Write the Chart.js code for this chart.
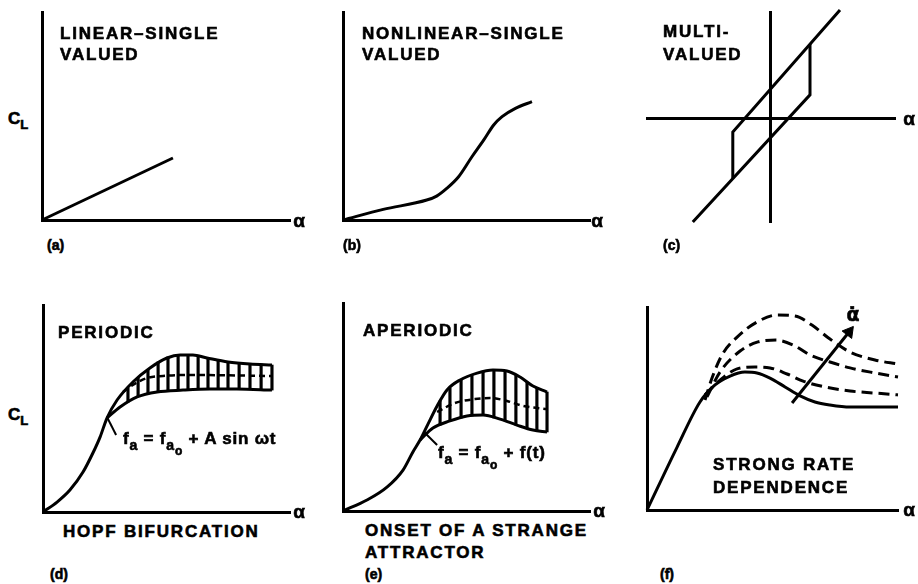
<!DOCTYPE html>
<html>
<head>
<meta charset="utf-8">
<script src="https://cdn.jsdelivr.net/npm/chart.js@4.4.1/dist/chart.umd.min.js"></script>
<style>
  html, body { margin: 0; padding: 0; background: #fff; }
  #fig { position: relative; width: 918px; height: 584px; overflow: hidden; font-family: "Liberation Sans", Arial, sans-serif; font-weight: bold; color: #000; -webkit-text-stroke: 0.6px #000; }
  #fig canvas { position: absolute; }
  .t { position: absolute; font-size: 17px; letter-spacing: 1.8px; line-height: 1; white-space: nowrap; transform: translateY(-50%); }
  .al { position: absolute; font-size: 19px; line-height: 1; transform: translate(-50%, -50%); }
  .cl { position: absolute; font-size: 17px; line-height: 1; transform: translateY(-50%); }
  .cl span { font-size: 13px; position: relative; top: 5px; }
  .pl { position: absolute; font-size: 14px; line-height: 1; transform: translateY(-50%); }
  .fm { position: absolute; font-size: 17px; letter-spacing: 0.8px; line-height: 1; white-space: nowrap; transform: translateY(-50%); }
  .fm .s { font-size: 14px; position: relative; top: 6px; }
  .fm .ss { font-size: 12px; position: relative; top: 5px; }
</style>
</head>
<body>
<div id="fig">
  <canvas id="chartA" width="264" height="224" style="left:34px;top:4px;width:264px;height:224px"></canvas>
  <canvas id="chartB" width="263" height="224" style="left:335px;top:4px;width:263px;height:224px"></canvas>
  <canvas id="chartC" width="264" height="226" style="left:639px;top:4px;width:264px;height:226px"></canvas>
  <canvas id="chartD" width="263" height="223" style="left:35px;top:297px;width:263px;height:223px"></canvas>
  <canvas id="chartE" width="263" height="224" style="left:335px;top:295px;width:263px;height:224px"></canvas>
  <canvas id="chartF" width="267" height="219" style="left:639px;top:299px;width:267px;height:219px"></canvas>

  <div class="t" style="left:60px;top:33px">LINEAR–SINGLE</div>
  <div class="t" style="left:60px;top:54px">VALUED</div>
  <div class="t" style="left:362px;top:33px">NONLINEAR–SINGLE</div>
  <div class="t" style="left:362px;top:54px">VALUED</div>
  <div class="t" style="left:663px;top:31px">MULTI-</div>
  <div class="t" style="left:663px;top:54px">VALUED</div>
  <div class="t" style="left:58px;top:332px">PERIODIC</div>
  <div class="t" style="left:363px;top:330px">APERIODIC</div>
  <div class="t" style="left:713px;top:464px">STRONG RATE</div>
  <div class="t" style="left:713px;top:487px">DEPENDENCE</div>
  <div class="t" style="left:63px;top:531px">HOPF BIFURCATION</div>
  <div class="t" style="left:365px;top:530px">ONSET OF A STRANGE</div>
  <div class="t" style="left:365px;top:552px">ATTRACTOR</div>

  <div class="cl" style="left:8px;top:118px">C<span>L</span></div>
  <div class="cl" style="left:8px;top:414px">C<span>L</span></div>

  <div class="al" style="left:299px;top:220px">α</div>
  <div class="al" style="left:597px;top:220px">α</div>
  <div class="al" style="left:909px;top:118px">α</div>
  <div class="al" style="left:299px;top:511px">α</div>
  <div class="al" style="left:599px;top:510px">α</div>
  <div class="al" style="left:909px;top:509px">α</div>
  <div class="al" style="left:853px;top:314px;font-family:'DejaVu Sans'">&alpha;&#775;</div>

  <div class="pl" style="left:47px;top:245px">(a)</div>
  <div class="pl" style="left:343px;top:245px">(b)</div>
  <div class="pl" style="left:663px;top:245px">(c)</div>
  <div class="pl" style="left:50px;top:574px">(d)</div>
  <div class="pl" style="left:365px;top:574px">(e)</div>
  <div class="pl" style="left:660px;top:574px">(f)</div>

  <div class="fm" style="left:123px;top:438px">f<span class="s">a</span> = f<span class="s">a<span class="ss">o</span></span> + A sin ωt</div>
  <div class="fm" style="left:438px;top:452px">f<span class="s">a</span> = f<span class="s">a<span class="ss">o</span></span> + f(t)</div>
</div>

<script>
// values, arbitrary 0..10 units (no ticks in the original)

// (a) linear - single valued
const aX = [0, 5.28];
const aY = [0, 2.98];

// (b) nonlinear - single valued
const bX = [0, 1.63, 3.39, 3.79, 4.2, 4.68, 5.22, 5.7, 6.1, 6.44, 6.98, 7.65];
const bY = [0, 0.51, 0.96, 1.15, 1.52, 2.08, 3.04, 3.85, 4.57, 4.97, 5.37, 5.69];

// (c) multi valued, axes cross at 0
const cUpperX = [1.75, -0.93, -0.93];
const cUpperY = [2.7, -0.35, -1.51];
const cLowerX = [-1.93, 1.0, 1.0];
const cLowerY = [-2.6, 0.58, 1.85];

// (d) periodic
const dUpperX = [0, 0.57, 1.09, 1.62, 2.02, 2.31, 2.59, 3.0, 3.64, 4.33, 5.02, 5.55, 6.07, 6.64, 7.49, 8.38, 9.27];
const dUpperY = [0, 0.48, 1.06, 1.93, 2.85, 3.62, 4.54, 5.41, 6.28, 6.96, 7.44, 7.58, 7.58, 7.44, 7.25, 7.15, 7.1];
const dLowerX = [2.59, 3.12, 3.81, 4.62, 5.67, 6.76, 7.85, 9.27];
const dLowerY = [4.54, 5.07, 5.56, 5.8, 5.89, 5.94, 5.94, 5.89];
const dMidX = [3.24, 3.64, 4.21, 4.86, 5.95, 9.27];
const dMidY = [5.8, 6.14, 6.47, 6.57, 6.62, 6.57];
const dGridX = [3.44, 3.85, 4.25, 4.66, 5.06, 5.47, 5.87, 6.28, 6.68, 7.09, 7.49, 7.94, 8.38, 8.83, 9.27];
const dGridLo = [5.31, 5.6, 5.7, 5.8, 5.85, 5.89, 5.89, 5.94, 5.94, 5.94, 5.94, 5.94, 5.94, 5.89, 5.89];
const dGridHi = [5.99, 6.47, 6.86, 7.25, 7.49, 7.58, 7.58, 7.54, 7.44, 7.34, 7.25, 7.2, 7.15, 7.15, 7.1];
const dLeadX = [2.59, 2.96];
const dLeadY = [4.59, 3.72];

// (e) aperiodic
const eUpperX = [0, 0.97, 1.78, 2.43, 2.83, 3.12, 3.44, 3.81, 4.21, 4.74, 5.43, 6.07, 6.64, 7.17, 7.69, 8.26];
const eUpperY = [0, 0.53, 1.15, 1.97, 2.84, 3.41, 4.18, 5.05, 5.82, 6.3, 6.63, 6.78, 6.73, 6.44, 6.01, 5.72];
const eLowerX = [3.12, 3.64, 4.33, 5.02, 5.67, 6.36, 7.04, 7.69, 8.26];
const eLowerY = [3.41, 3.99, 4.33, 4.57, 4.62, 4.42, 4.13, 3.89, 3.8];
const eMidX = [3.81, 4.53, 5.34, 5.95, 6.64, 7.29, 8.26];
const eMidY = [4.76, 5.19, 5.38, 5.43, 5.29, 5.05, 4.9];
const eGridX = [3.93, 4.33, 4.78, 5.22, 5.67, 6.11, 6.56, 7.0, 7.45, 7.85, 8.26];
const eGridLo = [4.13, 4.33, 4.47, 4.57, 4.62, 4.47, 4.33, 4.13, 3.99, 3.85, 3.8];
const eGridHi = [5.29, 5.91, 6.3, 6.54, 6.68, 6.78, 6.73, 6.54, 6.2, 5.91, 5.72];
const eLeadX = [3.28, 3.81];
const eLeadY = [3.8, 3.17];

// (f) strong rate dependence
const fSolidX = [0, 1.2, 2.11, 2.71, 3.31, 3.9, 4.38, 4.9, 5.5, 6.1, 6.69, 7.29, 8.09, 9.08, 10];
const fSolidY = [0, 3.1, 5.32, 6.16, 6.6, 6.8, 6.75, 6.5, 6.06, 5.62, 5.32, 5.17, 5.07, 5.07, 5.07];
const fDash1X = [2.31, 2.91, 3.59, 4.3, 4.9, 5.58, 6.22, 7.09, 8.09, 9.08, 10];
const fDash1Y = [5.67, 6.4, 6.95, 7.04, 7.0, 6.7, 6.35, 6.06, 5.86, 5.76, 5.67];
const fDash2X = [2.39, 2.91, 3.71, 4.42, 5.14, 5.82, 6.49, 7.29, 8.09, 9.08, 10];
const fDash2Y = [5.57, 6.8, 7.83, 8.28, 8.37, 8.13, 7.64, 7.29, 7.0, 6.75, 6.55];
const fDash3X = [2.31, 2.59, 2.99, 3.59, 4.38, 5.22, 5.9, 6.57, 7.29, 8.09, 9.08, 10];
const fDash3Y = [5.42, 6.5, 7.64, 8.52, 9.26, 9.61, 9.56, 9.11, 8.42, 7.78, 7.39, 7.19];
const fArrowX = [5.78, 8.05];
const fArrowY = [5.27, 8.77];

function pts(xs, ys) {
  return xs.map(function(x, i) { return { x: x, y: ys[i] }; });
}

function line(xs, ys, extra) {
  return Object.assign({
    type: 'line',
    data: pts(xs, ys),
    borderColor: '#000',
    borderWidth: 3,
    pointRadius: 0,
    fill: false,
    clip: false,
    cubicInterpolationMode: 'monotone'
  }, extra || {});
}

function band(xs, lo, hi) {
  return {
    type: 'bar',
    data: xs.map(function(x, i) { return { x: x, y: [lo[i], hi[i]] }; }),
    backgroundColor: '#000',
    barThickness: 2.5
  };
}

function scales(xmin, xmax, ymin, ymax, crossed) {
  const border = { display: true, color: '#000', width: 3 };
  return {
    x: {
      type: 'linear', min: xmin, max: xmax, offset: false,
      position: crossed ? { y: 0 } : 'bottom',
      ticks: { display: false },
      grid: { display: false, drawTicks: false },
      border: border
    },
    y: {
      type: 'linear', min: ymin, max: ymax,
      position: crossed ? { x: 0 } : 'left',
      ticks: { display: false },
      grid: { display: false, drawTicks: false },
      border: border
    }
  };
}

function options(sc) {
  return {
    responsive: false,
    animation: false,
    layout: { padding: 8, autoPadding: false },
    plugins: { legend: { display: false }, tooltip: { enabled: false } },
    scales: sc
  };
}

// (a)
new Chart(document.getElementById('chartA').getContext('2d'), {
  type: 'line',
  data: { datasets: [line(aX, aY, { cubicInterpolationMode: 'default', tension: 0 })] },
  options: options(scales(0, 10, 0, 10))
});

// (b)
new Chart(document.getElementById('chartB').getContext('2d'), {
  type: 'line',
  data: { datasets: [line(bX, bY)] },
  options: options(scales(0, 10, 0, 10))
});

// (c)
new Chart(document.getElementById('chartC').getContext('2d'), {
  type: 'line',
  data: {
    datasets: [
      line(cUpperX, cUpperY, { cubicInterpolationMode: 'default', tension: 0 }),
      line(cLowerX, cLowerY, { cubicInterpolationMode: 'default', tension: 0 })
    ]
  },
  options: options(scales(-3.075, 3.125, -2.6, 2.65, true))
});

// (d)
new Chart(document.getElementById('chartD').getContext('2d'), {
  type: 'line',
  data: {
    datasets: [
      line(dUpperX, dUpperY),
      line(dLowerX, dLowerY),
      line(dMidX, dMidY, { borderWidth: 2.5, borderDash: [6, 4] }),
      band(dGridX, dGridLo, dGridHi),
      line(dLeadX, dLeadY, { borderWidth: 2, cubicInterpolationMode: 'default', tension: 0 })
    ]
  },
  options: options(scales(0, 10, 0, 10))
});

// (e)
new Chart(document.getElementById('chartE').getContext('2d'), {
  type: 'line',
  data: {
    datasets: [
      line(eUpperX, eUpperY),
      line(eLowerX, eLowerY),
      line(eMidX, eMidY, { borderWidth: 2.5, borderDash: [6, 4] }),
      band(eGridX, eGridLo, eGridHi),
      line(eLeadX, eLeadY, { borderWidth: 2, cubicInterpolationMode: 'default', tension: 0 })
    ]
  },
  options: options(scales(0, 10, 0, 10))
});

// (f)
new Chart(document.getElementById('chartF').getContext('2d'), {
  type: 'line',
  data: {
    datasets: [
      line(fSolidX, fSolidY),
      line(fDash1X, fDash1Y, { borderDash: [11, 6] }),
      line(fDash2X, fDash2Y, { borderDash: [11, 6] }),
      line(fDash3X, fDash3Y, { borderDash: [11, 6] }),
      line(fArrowX, fArrowY, {
        cubicInterpolationMode: 'default', tension: 0,
        pointRadius: [0, 7], pointStyle: 'triangle', pointRotation: 38,
        pointBackgroundColor: '#000', pointBorderColor: '#000', pointBorderWidth: 1
      })
    ]
  },
  options: options(scales(0, 10, 0, 10))
});
</script>
</body>
</html>
